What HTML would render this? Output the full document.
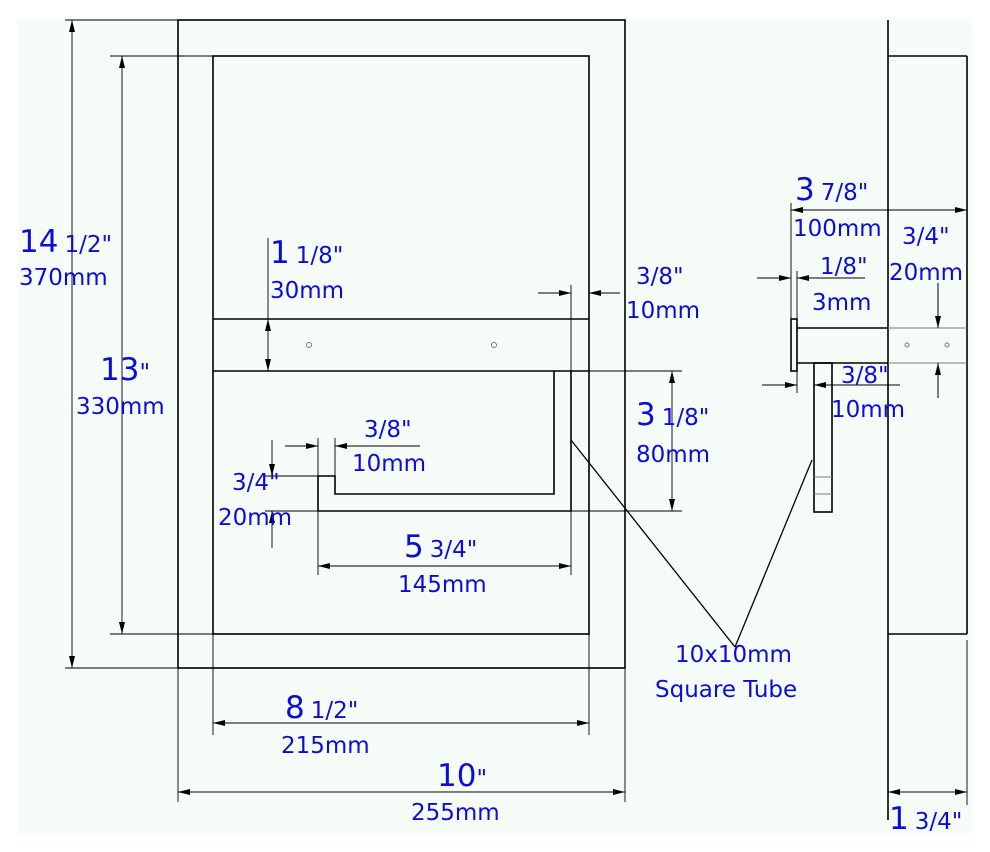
<!DOCTYPE html>
<html><head><style>
body{margin:0;background:#fff}
svg{display:block}
text{font-family:"DejaVu Sans","Liberation Sans",sans-serif;fill:#0c0cd8}
.b{font-size:31px}.s{font-size:23px}
</style></head><body>
<svg width="990" height="852" viewBox="0 0 990 852" xmlns="http://www.w3.org/2000/svg">
<defs>
<marker id="a" viewBox="0 0 12 6" refX="12" refY="3" markerWidth="12" markerHeight="6" orient="auto" markerUnits="userSpaceOnUse"><path d="M0,0L12,3L0,6z" fill="#000"/></marker>
</defs>
<rect x="18" y="18" width="954" height="816" fill="#f6fcf8"/>
<g stroke="#000" stroke-width="1.6" fill="none">
<rect x="178" y="20" width="447" height="648"/>
<rect x="213" y="56" width="376" height="578"/>
<line x1="213" y1="319" x2="589" y2="319"/>
<line x1="213" y1="371" x2="589" y2="371"/>
<path d="M571,371V511H318V476H335V494H554V371"/>
<line x1="571" y1="440" x2="735" y2="647" stroke-width="1.3"/>
<line x1="812" y1="460" x2="735" y2="647" stroke-width="1.3"/>
<line x1="888" y1="20" x2="888" y2="820"/>
<line x1="967" y1="56" x2="967" y2="634"/>
<line x1="888" y1="56" x2="967" y2="56"/>
<line x1="888" y1="634" x2="967" y2="634"/>
<rect x="791" y="319" width="6" height="52"/>
<path d="M797,328H888M797,363H888"/>
<rect x="814" y="363" width="18" height="149"/>
</g>
<g stroke="#777" stroke-width="1" fill="none">
<circle cx="309" cy="345" r="2.5"/><circle cx="494" cy="345" r="2.5"/>
<circle cx="907" cy="345" r="2"/><circle cx="947" cy="345" r="2"/>
<path d="M888,328H967M888,363H967M814,477H832M814,494H832"/>
</g>
<g stroke="#000" stroke-width="0.9" fill="none">
<path d="M65,20H178M65,668H178M110,56H213M110,634H213"/>
<path d="M268,238V319M571,285V371M589,285V319M571,371H682M571,511H682"/>
<path d="M318,438V476M335,438V476M265,476H318M265,511H318M318,511V575M571,511V575"/>
<path d="M213,634V735M589,634V735M178,668V802M625,668V802M967,640V805"/>
<path d="M791,203V319M797,271V319M797,371V393M832,371V393M938,283V328M938,363V398"/>
<line x1="72" y1="344" x2="72" y2="20" marker-end="url(#a)"/><line x1="72" y1="344" x2="72" y2="668" marker-end="url(#a)"/>
<line x1="122" y1="345" x2="122" y2="56" marker-end="url(#a)"/><line x1="122" y1="345" x2="122" y2="634" marker-end="url(#a)"/>
<line x1="268" y1="345" x2="268" y2="319" marker-end="url(#a)"/><line x1="268" y1="345" x2="268" y2="371" marker-end="url(#a)"/>
<line x1="538" y1="293" x2="571" y2="293" marker-end="url(#a)"/><line x1="620" y1="293" x2="589" y2="293" marker-end="url(#a)"/>
<line x1="672" y1="441" x2="672" y2="371" marker-end="url(#a)"/><line x1="672" y1="441" x2="672" y2="511" marker-end="url(#a)"/>
<line x1="285" y1="446" x2="318" y2="446" marker-end="url(#a)"/><line x1="420" y1="446" x2="335" y2="446" marker-end="url(#a)"/>
<line x1="272" y1="440" x2="272" y2="476" marker-end="url(#a)"/><line x1="272" y1="548" x2="272" y2="511" marker-end="url(#a)"/>
<line x1="444" y1="566" x2="318" y2="566" marker-end="url(#a)"/><line x1="444" y1="566" x2="571" y2="566" marker-end="url(#a)"/>
<line x1="401" y1="723" x2="213" y2="723" marker-end="url(#a)"/><line x1="401" y1="723" x2="589" y2="723" marker-end="url(#a)"/>
<line x1="401" y1="792" x2="178" y2="792" marker-end="url(#a)"/><line x1="401" y1="792" x2="625" y2="792" marker-end="url(#a)"/>
<line x1="928" y1="792" x2="888" y2="792" marker-end="url(#a)"/><line x1="928" y1="792" x2="967" y2="792" marker-end="url(#a)"/>
<line x1="879" y1="210" x2="791" y2="210" marker-end="url(#a)"/><line x1="879" y1="210" x2="967" y2="210" marker-end="url(#a)"/>
<line x1="757" y1="278" x2="791" y2="278" marker-end="url(#a)"/><line x1="865" y1="278" x2="797" y2="278" marker-end="url(#a)"/>
<line x1="762" y1="385" x2="797" y2="385" marker-end="url(#a)"/><line x1="900" y1="385" x2="814" y2="385" marker-end="url(#a)"/>
<line x1="938" y1="283" x2="938" y2="328" marker-end="url(#a)"/><line x1="938" y1="398" x2="938" y2="363" marker-end="url(#a)"/>
</g>
<text x="19" y="252"><tspan class="b">14</tspan><tspan class="s" dx="6">1/2"</tspan></text>
<text class="s" x="19" y="285">370mm</text>
<text x="100" y="380"><tspan class="b">13</tspan><tspan class="s">"</tspan></text>
<text class="s" x="76" y="414">330mm</text>
<text x="270" y="263"><tspan class="b">1</tspan><tspan class="s" dx="6">1/8"</tspan></text>
<text class="s" x="270" y="298">30mm</text>
<text class="s" x="636" y="284">3/8"</text>
<text class="s" x="626" y="318">10mm</text>
<text x="636" y="425"><tspan class="b">3</tspan><tspan class="s" dx="6">1/8"</tspan></text>
<text class="s" x="636" y="462">80mm</text>
<text class="s" x="364" y="437">3/8"</text>
<text class="s" x="352" y="471">10mm</text>
<text class="s" x="232" y="490">3/4"</text>
<text class="s" x="218" y="525">20mm</text>
<text x="404" y="557"><tspan class="b">5</tspan><tspan class="s" dx="6">3/4"</tspan></text>
<text class="s" x="398" y="592">145mm</text>
<text x="285" y="718"><tspan class="b">8</tspan><tspan class="s" dx="6">1/2"</tspan></text>
<text class="s" x="281" y="753">215mm</text>
<text x="437" y="786"><tspan class="b">10</tspan><tspan class="s">"</tspan></text>
<text class="s" x="411" y="820">255mm</text>
<text class="s" x="675" y="662">10x10mm</text>
<text class="s" x="655" y="697">Square Tube</text>
<text x="795" y="200"><tspan class="b">3</tspan><tspan class="s" dx="6">7/8"</tspan></text>
<text class="s" x="793" y="236">100mm</text>
<text class="s" x="902" y="244">3/4"</text>
<text class="s" x="889" y="280">20mm</text>
<text class="s" x="820" y="274">1/8"</text>
<text class="s" x="812" y="310">3mm</text>
<text class="s" x="841" y="383">3/8"</text>
<text class="s" x="831" y="417">10mm</text>
<text x="889" y="829"><tspan class="b">1</tspan><tspan class="s" dx="6">3/4"</tspan></text>
</svg>
</body></html>
